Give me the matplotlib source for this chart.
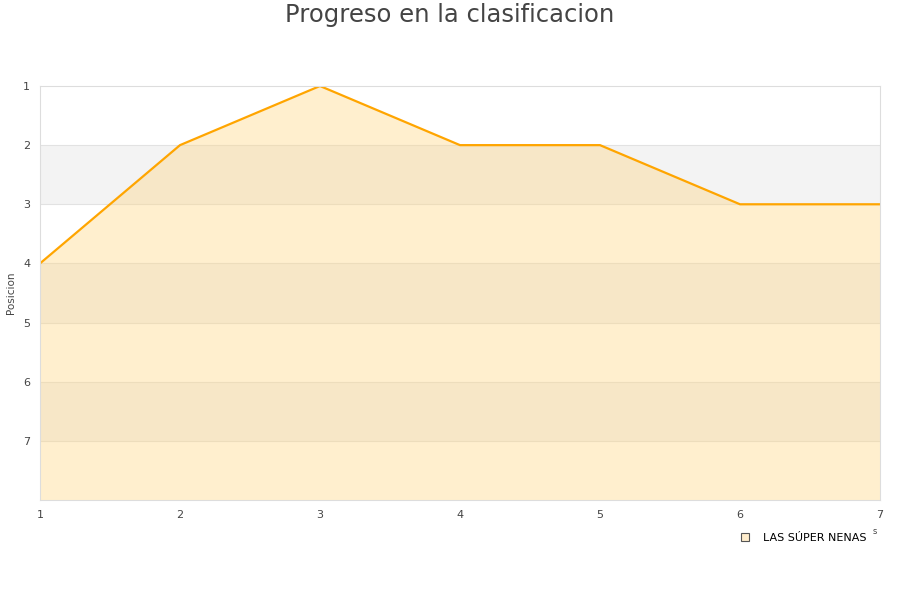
import matplotlib.pyplot as plt
from matplotlib.lines import Line2D

# jornadas y posicion del equipo
jornadas = [1, 2, 3, 4, 5, 6, 7]
posiciones = [4, 2, 1, 2, 2, 3, 3]
equipo = "LAS SÚPER NENAS"
ytick_labels = [1, 2, 3, 4, 5, 6, 7]

fig = plt.figure(figsize=(9, 6), dpi=100)
ax = fig.add_axes([40 / 900, 1 - 500 / 600, 840 / 900, 414 / 600])

# bandas alternas del fondo
for lo in (2, 4, 6):
    ax.axhspan(lo, lo + 1, color="#f3f3f3", zorder=0, lw=0)
for y in range(2, 8):
    ax.axhline(y, color="#e2e2e2", lw=0.8, zorder=0.5)

ax.fill_between(jornadas, posiciones, 8, color="#ffd580", alpha=0.38, lw=0, zorder=1)
ax.plot(jornadas, posiciones, color="#ffa500", lw=1.6, zorder=2)

ax.set_xlim(1, 7)
ax.set_ylim(8, 1)
ax.set_xticks(jornadas)
ax.set_yticks(ytick_labels)
ax.tick_params(axis="x", length=0, labelsize=8, colors="#444444", pad=7)
ax.tick_params(axis="y", length=0, labelsize=8, colors="#444444", pad=7)
for s in ax.spines.values():
    s.set_color("#dddddd")
ax.set_ylabel("Posicion", fontsize=7.5, color="#444444")
ax.yaxis.set_label_coords(-24 / 840, 0.5)

fig.text(0.5, 1 - 15 / 600, "Progreso en la clasificacion", ha="center", va="center",
         fontsize=17.5, color="#444444")
fig.text(875 / 900, 1 - 531 / 600, "s", ha="center", va="center", fontsize=6, color="#444444")

handle = Line2D([], [], marker="s", ls="none", markersize=6,
                markerfacecolor="#ffedcc", markeredgecolor="#555555", markeredgewidth=0.8)
fig.legend([handle], [equipo], loc="center", bbox_to_anchor=(800 / 900, 1 - 538 / 600),
           frameon=False, fontsize=8, handletextpad=0.6)

fig.savefig("out.png", dpi=100)
